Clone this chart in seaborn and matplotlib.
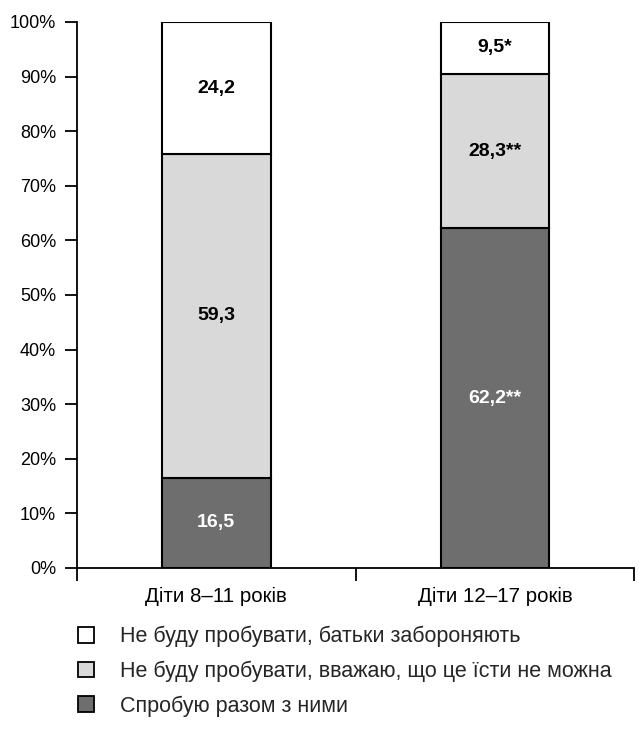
import matplotlib
matplotlib.use("Agg")
import matplotlib.pyplot as plt
from matplotlib.patches import Patch
from matplotlib.ticker import FixedLocator
import seaborn as sns
import numpy as np

# Age groups and answer shares (%)
groups = ["Діти 8–11 років", "Діти 12–17 років"]
series_names = [
    "Спробую разом з ними",
    "Не буду пробувати, вважаю, що це їсти не можна",
    "Не буду пробувати, батьки забороняють",
]
try_together = [16.5, 62.2]
cannot_eat = [59.3, 28.3]
parents_forbid = [24.2, 9.5]
# significance markers appended to the value labels
try_marks = ["", "**"]
cannot_marks = ["", "**"]
forbid_marks = ["", "*"]

y_ticks = list(range(0, 101, 10))

colors = ["#6e6e6e", "#d9d9d9", "#ffffff"]
text_colors = ["white", "black", "black"]

sns.set_theme(style="white")
plt.rcParams["font.family"] = ["Liberation Sans", "DejaVu Sans"]

fig = plt.figure(figsize=(6.39, 7.31), dpi=100)
ax = fig.add_axes([0.1205, 0.223, 0.872, 0.747])

stack = [try_together, cannot_eat, parents_forbid]
marks = [try_marks, cannot_marks, forbid_marks]
bottom = np.zeros(len(groups))
for vals, mk, col, tcol in zip(stack, marks, colors, text_colors):
    vals = np.asarray(vals, dtype=float)
    sns.barplot(x=groups, y=vals, bottom=bottom, color=col, saturation=1,
                width=0.39, edgecolor="black", linewidth=1.5, ax=ax, zorder=3)
    for i, (v, m) in enumerate(zip(vals, mk)):
        label = f"{v:.1f}".replace(".", ",") + m
        ax.text(i, bottom[i] + v / 2, label, ha="center", va="center",
                fontsize=14, fontweight="bold", color=tcol, zorder=4)
    bottom = bottom + vals

ax.set_xlim(-0.5, 1.5)
ax.set_ylim(0, 100)
ax.set_yticks(y_ticks)
ax.set_yticklabels([f"{t}%" for t in y_ticks], fontsize=13, color="black")
ax.set_xticks(range(len(groups)))
ax.set_xticklabels(groups, fontsize=14.8, color="black")
ax.xaxis.set_minor_locator(FixedLocator([-0.5, 0.5, 1.5]))
ax.tick_params(axis="x", which="major", length=0, pad=14)
ax.tick_params(axis="x", which="minor", length=9, width=1.3, direction="out",
               color="black", bottom=True)
ax.tick_params(axis="y", length=9, width=1.3, direction="out", color="black",
               left=True, pad=6)
ax.set_xlabel("")
ax.set_ylabel("")
for side in ["top", "right"]:
    ax.spines[side].set_visible(False)
for side in ["left", "bottom"]:
    ax.spines[side].set_color("black")
    ax.spines[side].set_linewidth(1.3)
ax.grid(False)

handles = [Patch(facecolor=c, edgecolor="black", linewidth=1.3)
           for c in colors[::-1]]
fig.legend(handles, series_names[::-1], loc="upper left",
           bbox_to_anchor=(0.122, 0.1436), frameon=False, fontsize=15.5,
           handlelength=0.75, handleheight=0.75, handletextpad=1.2,
           labelspacing=0.62, borderaxespad=0, borderpad=0)

fig.savefig("out.png", dpi=100)
